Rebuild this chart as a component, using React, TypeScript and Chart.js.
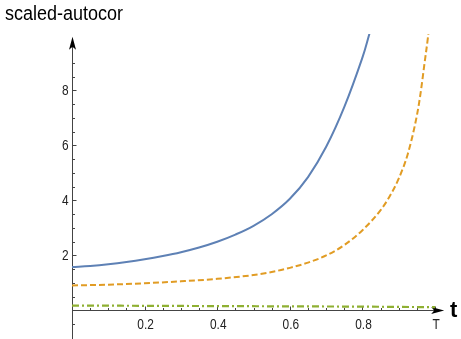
import { useEffect, useRef } from "react";
import { Chart, registerables } from "chart.js";

Chart.register(...registerables);

// ---- data ----
const blueT = [0, 0.05, 0.1, 0.15, 0.2, 0.25, 0.3, 0.35, 0.4, 0.45, 0.5, 0.55, 0.6, 0.65, 0.7, 0.75, 0.8, 0.82];
const blueV = [1.58, 1.62, 1.68, 1.76, 1.86, 1.98, 2.12, 2.29, 2.5, 2.76, 3.08, 3.5, 4.06, 4.85, 5.95, 7.4, 9.2, 10.1];

const orangeT = [0, 0.1, 0.2, 0.3, 0.4, 0.5, 0.55, 0.6, 0.65, 0.7, 0.75, 0.8, 0.85, 0.875, 0.9, 0.925, 0.95, 0.96, 0.97, 0.98, 0.985];
const orangeV = [0.91, 0.94, 0.99, 1.06, 1.15, 1.29, 1.4, 1.55, 1.74, 2.0, 2.38, 2.92, 3.65, 4.15, 4.8, 5.7, 7.1, 7.9, 8.9, 9.9, 10.5];

const greenT = [0, 0.2, 0.4, 0.6, 0.8, 1.0];
const greenV = [0.18, 0.17, 0.16, 0.15, 0.14, 0.12];

const xMajorTicks = [0.2, 0.4, 0.6, 0.8, 1.0];
const xTickLabels = ["0.2", "0.4", "0.6", "0.8", "T"];
const yMajorTicks = [2, 4, 6, 8];
const yTickLabels = ["2", "4", "6", "8"];
const xMinorStep = 0.05;
const yMinorStep = 0.5;
const yAxisTitle = "scaled-autocor";
const xAxisTitle = "t";

const X_MIN = 0;
const X_MAX = 1.03;
const Y_MIN = -1;
const Y_MAX = 10.05;
const X_ARROW = 1.025;
const Y_ARROW = 9.95;

const FONT = '"Liberation Sans", Arial, sans-serif';

const toPts = (ts: number[], vs: number[]) => ts.map((t, i) => ({ x: t, y: vs[i] }));

// draw text horizontally condensed (the reference uses a narrow sans)
function narrowText(ctx: CanvasRenderingContext2D, s: string, x: number, y: number, k: number) {
  ctx.save();
  ctx.translate(x, y);
  ctx.scale(k, 1);
  ctx.fillText(s, 0, 0);
  ctx.restore();
}

const axesPlugin = {
  id: "mathAxes",
  beforeDatasetsDraw(chart: any) {
    const { ctx } = chart;
    const xs = chart.scales.x;
    const ys = chart.scales.y;
    const px = (v: number) => xs.getPixelForValue(v);
    const py = (v: number) => ys.getPixelForValue(v);
    const ax = Math.round(px(0)) + 0.5;
    const ay = Math.round(py(0)) + 0.5;
    const bottom = chart.height;

    ctx.save();
    ctx.strokeStyle = "#444";
    ctx.lineWidth = 1;
    ctx.beginPath();
    ctx.moveTo(ax, bottom);
    ctx.lineTo(ax, py(Y_ARROW) + 8);
    ctx.stroke();
    ctx.beginPath();
    ctx.moveTo(ax, ay);
    ctx.lineTo(px(X_ARROW) - 8, ay);
    ctx.stroke();

    for (let v = Y_MIN + yMinorStep; v < Y_ARROW - 0.6; v += yMinorStep) {
      const vv = Math.round(v * 100) / 100;
      if (Math.abs(vv) < 1e-6) continue;
      const major = yMajorTicks.some((m) => Math.abs(m - vv) < 1e-6);
      const y = Math.round(py(vv)) + 0.5;
      ctx.beginPath();
      ctx.moveTo(ax, y);
      ctx.lineTo(ax + (major ? 4 : 2.5), y);
      ctx.stroke();
    }
    for (let v = xMinorStep; v <= 1.0001; v += xMinorStep) {
      const vv = Math.round(v * 100) / 100;
      const major = xMajorTicks.some((m) => Math.abs(m - vv) < 1e-6);
      const x = Math.round(px(vv)) + 0.5;
      ctx.beginPath();
      ctx.moveTo(x, ay);
      ctx.lineTo(x, ay - (major ? 4 : 2.5));
      ctx.stroke();
    }

    ctx.fillStyle = "#000";
    const ty = py(Y_ARROW);
    ctx.beginPath();
    ctx.moveTo(ax, ty);
    ctx.lineTo(ax - 3.5, ty + 13);
    ctx.lineTo(ax, ty + 10);
    ctx.lineTo(ax + 3.5, ty + 13);
    ctx.closePath();
    ctx.fill();
    const tx = px(X_ARROW);
    ctx.beginPath();
    ctx.moveTo(tx, ay);
    ctx.lineTo(tx - 13, ay - 3.5);
    ctx.lineTo(tx - 10, ay);
    ctx.lineTo(tx - 13, ay + 3.5);
    ctx.closePath();
    ctx.fill();

    ctx.fillStyle = "#222";
    ctx.font = `14px ${FONT}`;
    ctx.textAlign = "right";
    ctx.textBaseline = "middle";
    yMajorTicks.forEach((v, i) => {
      narrowText(ctx, yTickLabels[i], ax - 4, py(v) + 0.5, 0.85);
    });
    ctx.textAlign = "center";
    ctx.textBaseline = "top";
    xMajorTicks.forEach((v, i) => {
      narrowText(ctx, xTickLabels[i], px(v) + 1, ay + 8, 0.85);
    });

    ctx.fillStyle = "#000";
    ctx.font = `20px ${FONT}`;
    ctx.textAlign = "left";
    ctx.textBaseline = "top";
    narrowText(ctx, yAxisTitle, 5, 4, 0.9);
    ctx.font = `bold 22px ${FONT}`;
    ctx.textBaseline = "middle";
    ctx.fillText(xAxisTitle, 450, ay);
    ctx.restore();
  },
};

export default function App() {
  const ref = useRef<HTMLCanvasElement | null>(null);

  useEffect(() => {
    document.body.style.margin = "0";
    const canvas = ref.current;
    if (!canvas) return;
    const chart = new Chart(canvas, {
      type: "line",
      data: {
        datasets: [
          {
            label: "blue",
            data: toPts(blueT, blueV),
            borderColor: "#5E81B5",
            borderWidth: 2,
            pointRadius: 0,
            tension: 0.4,
            fill: false,
          },
          {
            label: "orange",
            data: toPts(orangeT, orangeV),
            borderColor: "#E19C24",
            borderWidth: 2,
            borderDash: [6, 3],
            pointRadius: 0,
            cubicInterpolationMode: "monotone",
            fill: false,
          },
          {
            label: "green",
            data: toPts(greenT, greenV),
            borderColor: "#8FB032",
            borderWidth: 2.2,
            borderDash: [7, 3, 2, 3],
            pointRadius: 0,
            cubicInterpolationMode: "monotone",
            fill: false,
          },
        ],
      },
      options: {
        animation: false,
        responsive: false,
        maintainAspectRatio: false,
        layout: { padding: { left: 72, right: 15, top: 34, bottom: 1 } },
        plugins: { legend: { display: false }, tooltip: { enabled: false } },
        scales: {
          x: { type: "linear", min: X_MIN, max: X_MAX, display: false },
          y: { type: "linear", min: Y_MIN, max: Y_MAX, display: false },
        },
      },
      plugins: [axesPlugin],
    });
    return () => chart.destroy();
  }, []);

  return (
    <div style={{ position: "absolute", left: 0, top: 0, width: 461, height: 339 }}>
      <canvas ref={ref} width={461} height={339} />
    </div>
  );
}
